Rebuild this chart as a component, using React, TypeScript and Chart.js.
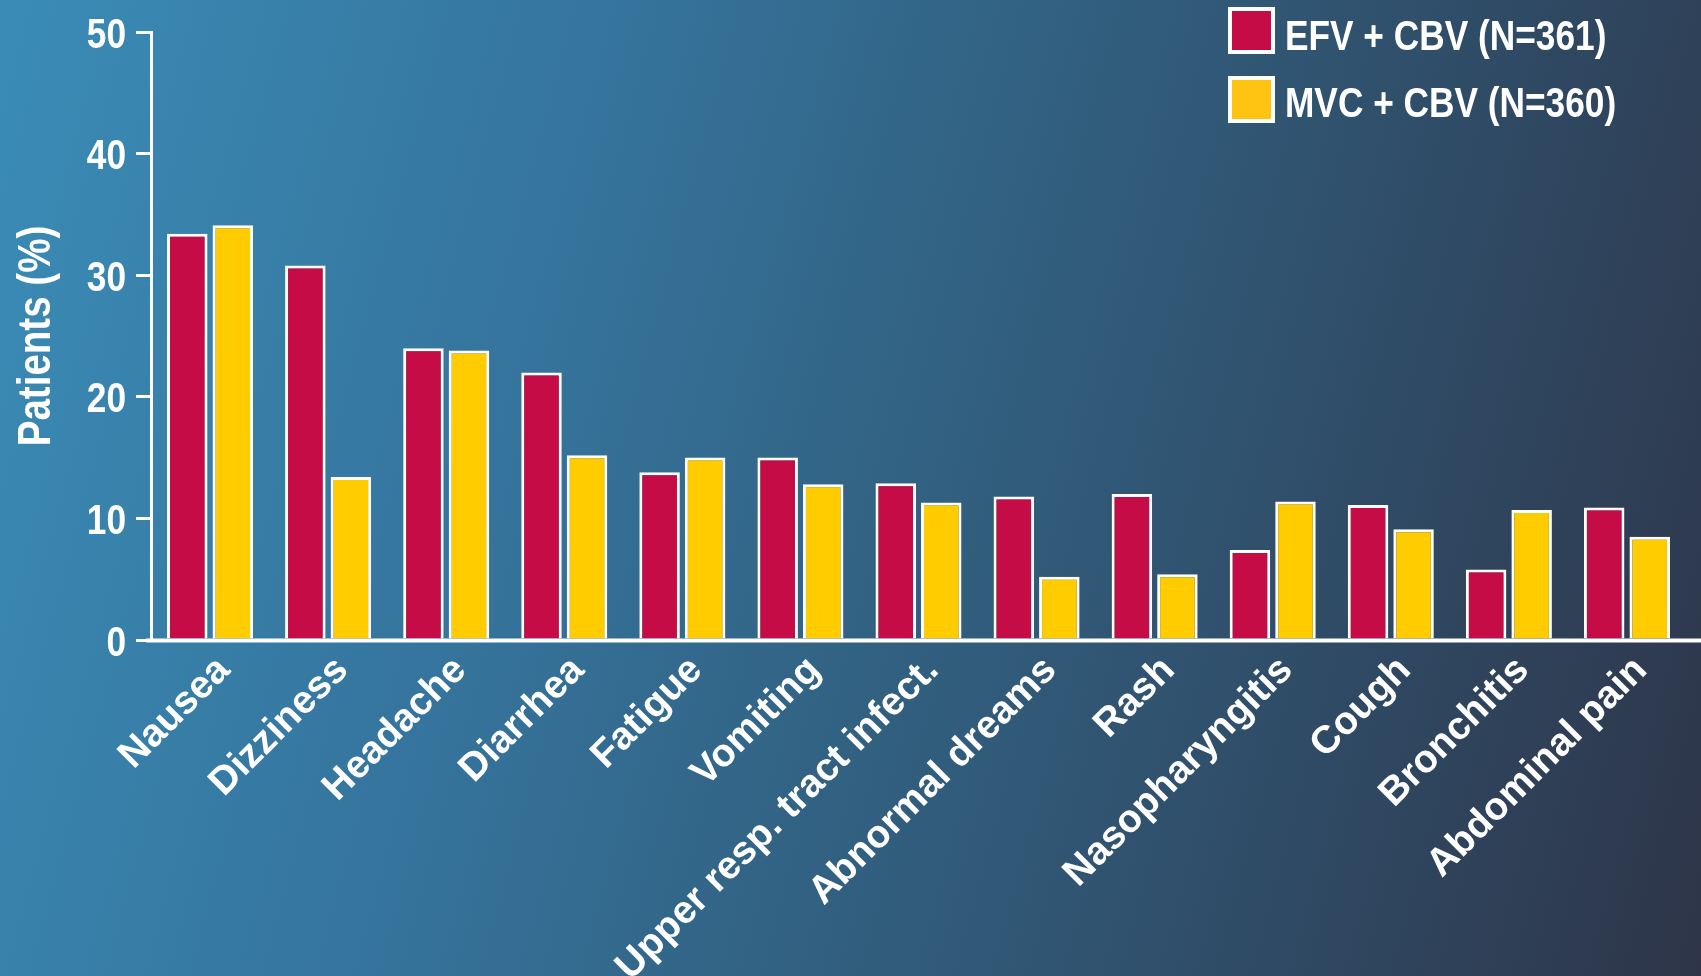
import React, { useEffect, useRef } from 'react';
import { Chart, registerables } from 'chart.js';

Chart.register(...registerables);

const categories = [
  'Nausea',
  'Dizziness',
  'Headache',
  'Diarrhea',
  'Fatigue',
  'Vomiting',
  'Upper resp. tract infect.',
  'Abnormal dreams',
  'Rash',
  'Nasopharyngitis',
  'Cough',
  'Bronchitis',
  'Abdominal pain',
];
const efvValues = [33.4, 30.8, 24.0, 22.0, 13.8, 15.0, 12.9, 11.8, 12.0, 7.4, 11.1, 5.8, 10.9];
const mvcValues = [34.1, 13.4, 23.8, 15.2, 15.0, 12.8, 11.3, 5.2, 5.4, 11.4, 9.1, 10.7, 8.5];
const seriesLabels = ['EFV + CBV (N=361)', 'MVC + CBV (N=360)'];
const yTickValues = [0, 10, 20, 30, 40, 50];
const yTitle = 'Patients (%)';

const W = 1701;
const H = 976;
const RED = '#c60c46';
const YELLOW = '#ffcc00';
const LEGEND_COLORS = ['#c60c46', '#ffc312'];
const FONT = "'Liberation Sans', Arial, sans-serif";
const NARROW_SCALE = 0.82;

function drawNarrowText(
  ctx: CanvasRenderingContext2D,
  text: string,
  x: number,
  y: number,
  size: number,
  align: CanvasTextAlign,
  rotation = 0
) {
  ctx.save();
  ctx.translate(x, y);
  if (rotation) ctx.rotate(rotation);
  ctx.scale(NARROW_SCALE, 1);
  ctx.font = `bold ${size}px ${FONT}`;
  ctx.fillStyle = '#ffffff';
  ctx.textAlign = align;
  ctx.textBaseline = 'alphabetic';
  ctx.fillText(text, 0, 0);
  ctx.restore();
}

const textPlugin = {
  id: 'customText',
  afterDraw(chart: any) {
    const ctx = chart.ctx as CanvasRenderingContext2D;
    const yScale = chart.scales.y;
    const xScale = chart.scales.x;

    // y tick labels (condensed look)
    yScale.ticks.forEach((t: any) => {
      const py = yScale.getPixelForValue(t.value);
      drawNarrowText(ctx, String(t.value), 126, py + 15.5, 43, 'right');
    });

    // y axis title
    drawNarrowText(ctx, yTitle, 50, (chart.chartArea.top + chart.chartArea.bottom) / 2, 47, 'center', -Math.PI / 2);

    // x category labels, rotated 45 degrees
    categories.forEach((label, i) => {
      const px = xScale.getPixelForTick(i);
      ctx.save();
      ctx.translate(px + 14, chart.chartArea.bottom + 24);
      ctx.rotate(-Math.PI / 4);
      ctx.font = `bold 39px ${FONT}`;
      ctx.fillStyle = '#ffffff';
      ctx.textAlign = 'right';
      ctx.textBaseline = 'middle';
      ctx.fillText(label, 0, 0);
      ctx.restore();
    });

    // legend
    chart.data.datasets.forEach((ds: any, i: number) => {
      const top = 7 + i * 69;
      ctx.save();
      ctx.fillStyle = '#ffffff';
      ctx.fillRect(1228, top, 47, 47);
      ctx.fillStyle = LEGEND_COLORS[i];
      ctx.fillRect(1232, top + 4, 39, 39);
      ctx.restore();
      drawNarrowText(ctx, ds.label, 1285, 50 + i * 67, 43, 'left');
    });
  },
};

const xAxisLinePlugin = {
  id: 'xAxisLine',
  afterDatasetsDraw(chart: any) {
    const ctx = chart.ctx;
    const y = chart.scales.y.getPixelForValue(0);
    ctx.save();
    ctx.strokeStyle = '#ffffff';
    ctx.lineWidth = 4;
    ctx.beginPath();
    ctx.moveTo(146, y + 0.5);
    ctx.lineTo(W, y + 0.5);
    ctx.stroke();
    ctx.restore();
  },
};

export default function App() {
  const canvasRef = useRef<HTMLCanvasElement | null>(null);

  useEffect(() => {
    document.body.style.margin = '0';
    const canvas = canvasRef.current;
    if (!canvas) return;
    const chart = new Chart(canvas, {
      type: 'bar',
      data: {
        labels: categories,
        datasets: [
          {
            label: seriesLabels[0],
            data: efvValues,
            backgroundColor: RED,
            borderColor: '#ffffff',
            borderWidth: 3,
            borderSkipped: 'bottom',
            categoryPercentage: 0.771,
            barPercentage: 0.89,
          },
          {
            label: seriesLabels[1],
            data: mvcValues,
            backgroundColor: YELLOW,
            borderColor: '#ffffff',
            borderWidth: 3,
            borderSkipped: 'bottom',
            categoryPercentage: 0.771,
            barPercentage: 0.89,
          },
        ],
      },
      options: {
        responsive: false,
        animation: false,
        devicePixelRatio: 1,
        layout: { padding: { top: 32, right: 15, left: 0, bottom: 0 } },
        plugins: {
          legend: { display: false },
          tooltip: { enabled: false },
        },
        scales: {
          x: {
            grid: { display: false, drawTicks: false },
            border: { display: false },
            ticks: { display: false, autoSkip: false },
            afterFit(scale: any) {
              scale.height = H - 640;
              scale.paddingLeft = 0;
              scale.paddingRight = 0;
            },
          },
          y: {
            min: 0,
            max: 50,
            afterBuildTicks(scale: any) {
              scale.ticks = yTickValues.map((v) => ({ value: v }));
            },
            grid: {
              display: true,
              drawOnChartArea: false,
              drawTicks: true,
              tickLength: 15,
              color: '#ffffff',
              lineWidth: 3,
            },
            border: { display: true, color: '#ffffff', width: 3 },
            ticks: { display: false },
            title: { display: false },
            afterFit(scale: any) {
              scale.width = 151;
              scale.paddingTop = 0;
              scale.paddingBottom = 0;
            },
          },
        },
      },
      plugins: [xAxisLinePlugin, textPlugin],
    } as any);
    return () => chart.destroy();
  }, []);

  return (
    <div
      style={{
        position: 'fixed',
        left: 0,
        top: 0,
        width: W,
        height: H,
        overflow: 'hidden',
        background:
          'linear-gradient(105deg, #3a8cb7 0%, #35739b 33%, #315d7c 58%, #2f4862 80%, #2e3548 100%)',
      }}
    >
      <canvas ref={canvasRef} width={W} height={H} style={{ display: 'block', width: W, height: H }} />
    </div>
  );
}
